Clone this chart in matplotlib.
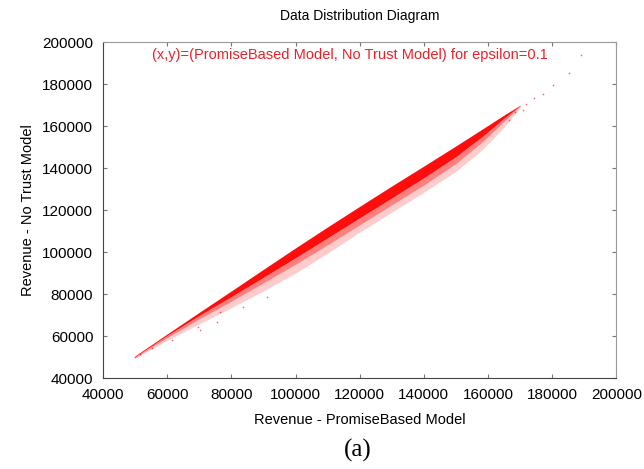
import numpy as np
import matplotlib
matplotlib.use("Agg")
from matplotlib import pyplot as plt

plt.rcParams['font.family'] = ['Liberation Sans', 'DejaVu Sans']

# Band of (PromiseBased, NoTrust) revenue pairs, read as edges along x
band_x        = [50000, 60000, 70000, 80000, 90000, 100000, 110000, 120000, 130000, 140000, 150000, 158000, 165000, 170000]
band_upper    = [50600, 61000, 71300, 81500, 91800, 102000, 112000, 121800, 131500, 141000, 150600, 158400, 165300, 170000]
band_core_low = [50200, 60300, 69800, 78800, 88000, 97300, 106800, 116300, 125800, 135400, 145500, 154800, 163800, 169800]
band_mid_low  = [49800, 59300, 68200, 76600, 85400, 94200, 103500, 113000, 122500, 132000, 142200, 152200, 162300, 169500]
band_low      = [49400, 58000, 65800, 73500, 81500, 90000, 99500, 109500, 119000, 128500, 138500, 148500, 159500, 169000]

# Sparse points at both ends of the cloud
tail_x = [50000, 51600, 55300, 61600, 69700, 70300, 75600, 76600, 83700, 91200,
          166500, 168500, 170900, 172000, 174400, 177000, 180300, 185300, 189000]
tail_y = [50000, 51400, 54300, 58100, 64300, 62900, 66700, 71400, 73800, 78600,
          162800, 166900, 167600, 170500, 173300, 175200, 179500, 185200, 193800]

x_ticks = [40000, 60000, 80000, 100000, 120000, 140000, 160000, 180000, 200000]
y_ticks = [40000, 60000, 80000, 100000, 120000, 140000, 160000, 180000, 200000]

fig = plt.figure(figsize=(6.44, 4.69), dpi=100)
ax = fig.add_axes([0.160, 0.194, 0.797, 0.716])

red = '#ff0000'
ax.fill_between(band_x, band_low, band_mid_low, color=red, alpha=0.2, lw=0)
ax.fill_between(band_x, band_mid_low, band_core_low, color=red, alpha=0.5, lw=0)
ax.fill_between(band_x, band_core_low, band_upper, color=red, alpha=0.95, lw=0)
ax.scatter(tail_x, tail_y, s=1.5, color=red, alpha=0.6, lw=0)

ax.set_xlim(40000, 200000)
ax.set_ylim(40000, 200000)
ax.set_xticks(x_ticks)
ax.set_yticks(y_ticks)
ax.tick_params(direction='in', length=3, width=0.8, color='#777777',
               top=True, right=True, labelsize=11, pad=7)
for side in ['top', 'right']:
    ax.spines[side].set_color('#999999')
for side in ['left', 'bottom']:
    ax.spines[side].set_color('#444444')

ax.set_xlabel('Revenue - PromiseBased Model', fontsize=10.5, labelpad=8)
ax.set_ylabel('Revenue - No Trust Model', fontsize=10.5, labelpad=5)
ax.set_title('Data Distribution Diagram', fontsize=10, pad=16)

ax.text(0.48, 0.962, '(x,y)=(PromiseBased Model, No Trust Model) for epsilon=0.1',
        transform=ax.transAxes, ha='center', va='center', fontsize=10.5, color='#e8222a')

fig.text(0.555, 0.04, '(a)', ha='center', va='center', fontsize=18,
         family=['Liberation Serif', 'DejaVu Serif'])

plt.savefig('out.png', dpi=100)
